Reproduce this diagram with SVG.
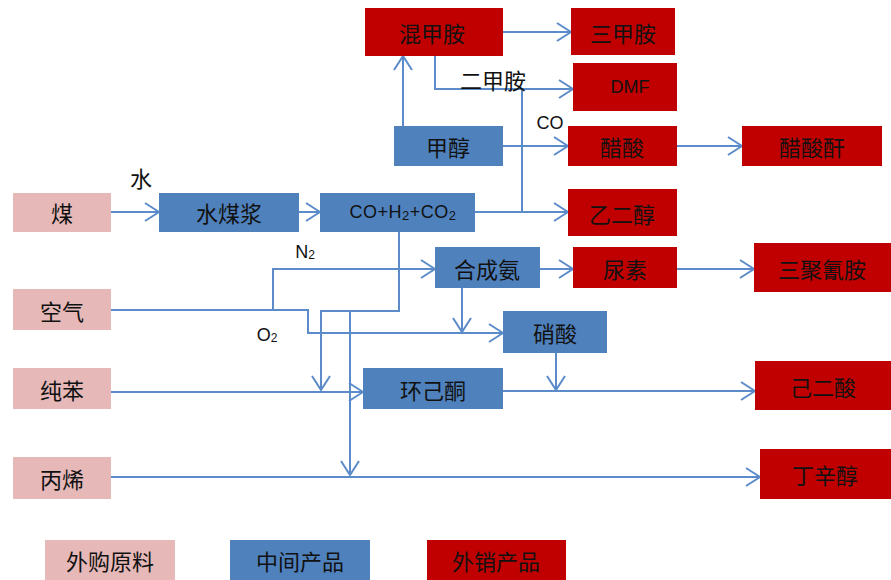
<svg xmlns="http://www.w3.org/2000/svg" width="891" height="580" viewBox="0 0 891 580">
<style>
.raw{fill:#E6B9B8}
.mid{fill:#4F81BD}
.out{fill:#C00000}
.t{font-family:"Noto Sans CJK SC","Liberation Sans",sans-serif;font-size:22px;fill:#111;text-anchor:middle;dominant-baseline:central}
.l{font-family:"Liberation Sans","Noto Sans CJK SC",sans-serif;font-size:18px;fill:#111;text-anchor:middle;dominant-baseline:central}
.c path{fill:none;stroke:#5B8BC9;stroke-width:2}
</style>
<defs>
<marker id="a" viewBox="-15 -10 16 20" refX="0" refY="0" markerWidth="16" markerHeight="20" markerUnits="userSpaceOnUse" orient="auto">
<path d="M-14,-9 L0,0 L-14,9" fill="none" stroke="#5B8BC9" stroke-width="2"/>
</marker>
</defs>
<rect width="891" height="580" fill="#fff"/>
<g class="c" id="connectors">
<path d="M111,212 H159" marker-end="url(#a)"/>
<path d="M299,212 H320" marker-end="url(#a)"/>
<path d="M475,212 H568" marker-end="url(#a)"/>
<path d="M522,212 V89"/>
<path d="M435,56 V89 H573" marker-end="url(#a)"/>
<path d="M503,146 H568" marker-end="url(#a)"/>
<path d="M403,126 V56" marker-end="url(#a)"/>
<path d="M503,32 H571" marker-end="url(#a)"/>
<path d="M677,146 H742" marker-end="url(#a)"/>
<path d="M399,232 V311 H321 V390" marker-end="url(#a)"/>
<path d="M350,311 V475" marker-end="url(#a)"/>
<path d="M111,310 H273 V269 H435" marker-end="url(#a)"/>
<path d="M273,310 H308 V333 H503" marker-end="url(#a)"/>
<path d="M540,269 H573" marker-end="url(#a)"/>
<path d="M677,269 H754" marker-end="url(#a)"/>
<path d="M462,288 V332" marker-end="url(#a)"/>
<path d="M111,392 H363" marker-end="url(#a)"/>
<path d="M503,391 H755" marker-end="url(#a)"/>
<path d="M556,353 V390" marker-end="url(#a)"/>
<path d="M111,477 H760" marker-end="url(#a)"/>
</g>
<g id="labels">
<text class="t" x="141" y="177" font-size="21">水</text>
<text class="t" x="493" y="79" font-size="21">二甲胺</text>
<text class="l" x="550" y="123">CO</text>
<text class="l" x="305" y="252">N<tspan font-size="12" dy="3">2</tspan></text>
<text class="l" x="267" y="335">O<tspan font-size="12" dy="3">2</tspan></text>
</g>
<g id="n-hunjiaan"><rect class="out" x="365" y="8" width="138" height="48"/><text class="t" x="432" y="32">混甲胺</text></g>
<g id="n-sanjiaan"><rect class="out" x="571" y="8" width="104" height="47"/><text class="t" x="623" y="32">三甲胺</text></g>
<g id="n-dmf"><rect class="out" x="573" y="63" width="104" height="48"/><text class="l" x="630" y="87" font-size="17">DMF</text></g>
<g id="n-cusuan"><rect class="out" x="568" y="126" width="109" height="40"/><text class="t" x="622" y="146">醋酸</text></g>
<g id="n-cusuangan"><rect class="out" x="742" y="126" width="140" height="40"/><text class="t" x="812" y="146">醋酸酐</text></g>
<g id="n-yierchun"><rect class="out" x="568" y="189" width="109" height="47"/><text class="t" x="622" y="213">乙二醇</text></g>
<g id="n-jiachun"><rect class="mid" x="394" y="126" width="109" height="40"/><text class="t" x="448" y="146">甲醇</text></g>
<g id="n-mei"><rect class="raw" x="13" y="193" width="98" height="39"/><text class="t" x="62" y="212">煤</text></g>
<g id="n-shuimeijiang"><rect class="mid" x="159" y="193" width="140" height="39"/><text class="t" x="229" y="212">水煤浆</text></g>
<g id="n-syngas"><rect class="mid" x="320" y="193" width="155" height="39"/><text class="l" x="403" y="212" font-size="19" letter-spacing="0.5">CO+H<tspan font-size="13" dy="3">2</tspan><tspan dy="-3">+CO</tspan><tspan font-size="13" dy="3">2</tspan></text></g>
<g id="n-hechengan"><rect class="mid" x="435" y="247" width="105" height="41"/><text class="t" x="487" y="268">合成氨</text></g>
<g id="n-niaosu"><rect class="out" x="573" y="247" width="104" height="41"/><text class="t" x="625" y="268">尿素</text></g>
<g id="n-sanjuqingan"><rect class="out" x="754" y="243" width="137" height="49"/><text class="t" x="822" y="268">三聚氰胺</text></g>
<g id="n-kongqi"><rect class="raw" x="13" y="289" width="98" height="41"/><text class="t" x="62" y="310">空气</text></g>
<g id="n-xiaosuan"><rect class="mid" x="503" y="311" width="104" height="42"/><text class="t" x="555" y="332">硝酸</text></g>
<g id="n-chunben"><rect class="raw" x="13" y="368" width="98" height="41"/><text class="t" x="62" y="389">纯苯</text></g>
<g id="n-huanjitong"><rect class="mid" x="363" y="368" width="140" height="41"/><text class="t" x="433" y="389">环己酮</text></g>
<g id="n-jiersuan"><rect class="out" x="755" y="361" width="136" height="49"/><text class="t" x="823" y="386">己二酸</text></g>
<g id="n-bingxi"><rect class="raw" x="13" y="457" width="98" height="42"/><text class="t" x="62" y="478">丙烯</text></g>
<g id="n-dingxinchun"><rect class="out" x="760" y="449" width="131" height="50"/><text class="t" x="825" y="474">丁辛醇</text></g>
<g id="legend-raw"><rect class="raw" x="45" y="540" width="130" height="40"/><text class="t" x="110" y="560">外购原料</text></g>
<g id="legend-mid"><rect class="mid" x="230" y="540" width="140" height="40"/><text class="t" x="300" y="560">中间产品</text></g>
<g id="legend-out"><rect class="out" x="427" y="540" width="139" height="40"/><text class="t" x="496" y="560">外销产品</text></g>
</svg>
